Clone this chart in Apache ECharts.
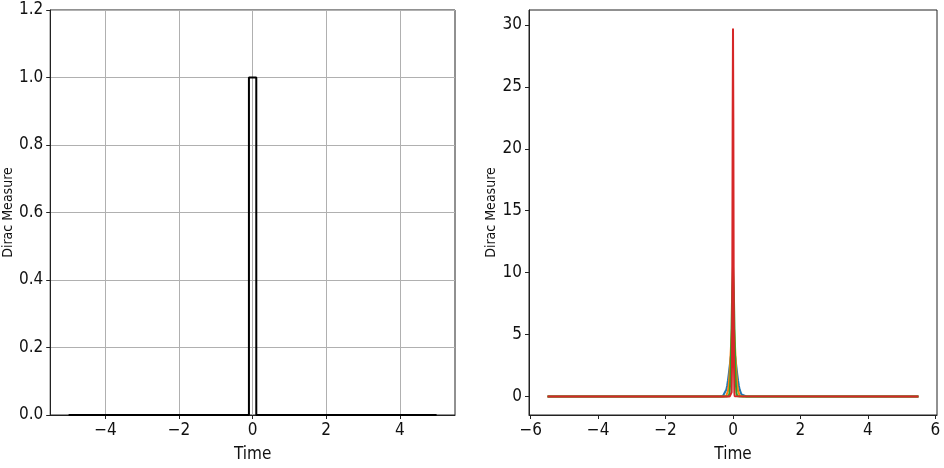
<!DOCTYPE html>
<html>
<head>
<meta charset="utf-8">
<script src="https://cdn.jsdelivr.net/npm/echarts@6/dist/echarts.min.js"></script>
<style>html,body{margin:0;padding:0;background:#fff}#c{width:944px;height:468px}</style>
</head>
<body>
<div id="c"></div>
<script>
// Left panel: indicator of a narrow interval around 0
const leftX = [-5, -0.1, -0.1, 0.1, 0.1, 5];
const leftY = [0, 0, 1, 1, 0, 0];
const leftXTicks = [-4, -2, 0, 2, 4];

// Right panel: Gaussian approximations
const blueX = [-5.5, -0.4, -0.3, -0.25, -0.2, -0.175, -0.15, -0.125, -0.1, -0.075, -0.05, -0.025, 0, 0.025, 0.05, 0.075, 0.1, 0.125, 0.15, 0.175, 0.2, 0.25, 0.3, 0.4, 5.5];
const blueY = [0, 0.001, 0.044, 0.18, 0.54, 0.86, 1.30, 1.83, 2.42, 3.01, 3.52, 3.87, 3.99, 3.87, 3.52, 3.01, 2.42, 1.83, 1.30, 0.86, 0.54, 0.18, 0.044, 0.001, 0];
const orangeX = [-5.5, -0.3, -0.2, -0.15, -0.125, -0.1, -0.075, -0.05, -0.025, 0, 0.025, 0.05, 0.075, 0.1, 0.125, 0.15, 0.2, 0.3, 5.5];
const orangeY = [0, 0.0001, 0.054, 0.43, 0.97, 1.88, 3.16, 4.57, 5.70, 6.14, 5.70, 4.57, 3.16, 1.88, 0.97, 0.43, 0.054, 0.0001, 0];
const greenX = [-5.5, -0.2, -0.15, -0.125, -0.1, -0.075, -0.05, -0.025, 0, 0.025, 0.05, 0.075, 0.1, 0.125, 0.15, 0.2, 5.5];
const greenY = [0, 0, 0.004, 0.047, 0.33, 1.50, 4.42, 8.46, 10.5, 8.46, 4.42, 1.50, 0.33, 0.047, 0.004, 0, 0];
const redX = [-5.5, -0.1, -0.05, -0.04, -0.03, -0.02, -0.01, 0, 0.01, 0.02, 0.03, 0.04, 0.05, 0.1, 5.5];
const redY = [0, 0, 0.028, 0.34, 2.41, 9.75, 22.5, 29.7, 22.5, 9.75, 2.41, 0.34, 0.028, 0, 0];
const rightXTicks = [-6, -4, -2, 0, 2, 4, 6];
const rightYTicks = [0, 5, 10, 15, 20, 25, 30];

const FONT_H = 'Liberation Sans Narrow, DejaVu Sans Condensed, sans-serif';
const FONT_V = 'DejaVu Sans Condensed, DejaVu Sans, sans-serif';
const zip = (xs, ys) => xs.map((x, i) => [x, ys[i]]);
const minus = v => String(v).replace('-', '\u2212');

const chart = echarts.init(document.getElementById('c'), null, {renderer: 'canvas'});
const axisLineStyle = {show: true, onZero: false, lineStyle: {color: '#222', width: 1}};
const tickStyle = {show: true, length: 4, lineStyle: {color: '#222'}};
const labelStyle = {color: '#111', fontSize: 17, fontFamily: FONT_H, margin: 7};
const xNameStyle = {color: '#111', fontSize: 17, fontFamily: FONT_H};
const yNameStyle = {color: '#111', fontSize: 14, fontFamily: FONT_V};

chart.setOption({
  animation: false,
  backgroundColor: '#fff',
  grid: [
    {left: 45, right: 489, top: 10, bottom: 49, show: true, borderColor: '#222', borderWidth: 1},
    {left: 529, right: 7, top: 10, bottom: 49, show: true, borderColor: '#222', borderWidth: 1}
  ],
  xAxis: [
    {gridIndex: 0, type: 'value', min: -5.5, max: 5.5,
     axisLine: axisLineStyle,
     axisTick: Object.assign({customValues: leftXTicks}, tickStyle),
     axisLabel: Object.assign({customValues: leftXTicks, formatter: minus}, labelStyle),
     splitLine: {show: true, lineStyle: {color: '#b0b0b0', width: 1}},
     name: 'Time', nameLocation: 'middle', nameGap: 31, nameTextStyle: xNameStyle},
    {gridIndex: 1, type: 'value', min: -6.05, max: 6.05,
     axisLine: axisLineStyle,
     axisTick: Object.assign({customValues: rightXTicks}, tickStyle),
     axisLabel: Object.assign({customValues: rightXTicks, formatter: minus}, labelStyle),
     splitLine: {show: false},
     name: 'Time', nameLocation: 'middle', nameGap: 31, nameTextStyle: xNameStyle}
  ],
  yAxis: [
    {gridIndex: 0, type: 'value', min: 0, max: 1.2, interval: 0.2,
     axisLine: axisLineStyle, axisTick: tickStyle,
     axisLabel: Object.assign({formatter: v => v.toFixed(1)}, labelStyle),
     splitLine: {show: true, lineStyle: {color: '#b0b0b0', width: 1}},
     name: 'Dirac Measure', nameLocation: 'middle', nameGap: 29, nameTextStyle: yNameStyle},
    {gridIndex: 1, type: 'value', min: -1.49, max: 31.2,
     axisLine: axisLineStyle,
     axisTick: Object.assign({customValues: rightYTicks}, tickStyle),
     axisLabel: Object.assign({customValues: rightYTicks}, labelStyle),
     splitLine: {show: false},
     name: 'Dirac Measure', nameLocation: 'middle', nameGap: 26, nameTextStyle: yNameStyle}
  ],
  series: [
    {type: 'line', xAxisIndex: 0, yAxisIndex: 0, data: zip(leftX, leftY), showSymbol: false,
     lineStyle: {color: '#000', width: 2}, itemStyle: {color: '#000'}},
    {type: 'line', xAxisIndex: 1, yAxisIndex: 1, data: zip(blueX, blueY), showSymbol: false,
     lineStyle: {color: '#1f77b4', width: 2}, itemStyle: {color: '#1f77b4'}},
    {type: 'line', xAxisIndex: 1, yAxisIndex: 1, data: zip(orangeX, orangeY), showSymbol: false,
     lineStyle: {color: '#ff7f0e', width: 2}, itemStyle: {color: '#ff7f0e'}},
    {type: 'line', xAxisIndex: 1, yAxisIndex: 1, data: zip(greenX, greenY), showSymbol: false,
     lineStyle: {color: '#2ca02c', width: 2}, itemStyle: {color: '#2ca02c'}},
    {type: 'line', xAxisIndex: 1, yAxisIndex: 1, data: zip(redX, redY), showSymbol: false,
     lineStyle: {color: '#d62728', width: 2}, itemStyle: {color: '#d62728'}}
  ]
});
</script>
</body>
</html>
